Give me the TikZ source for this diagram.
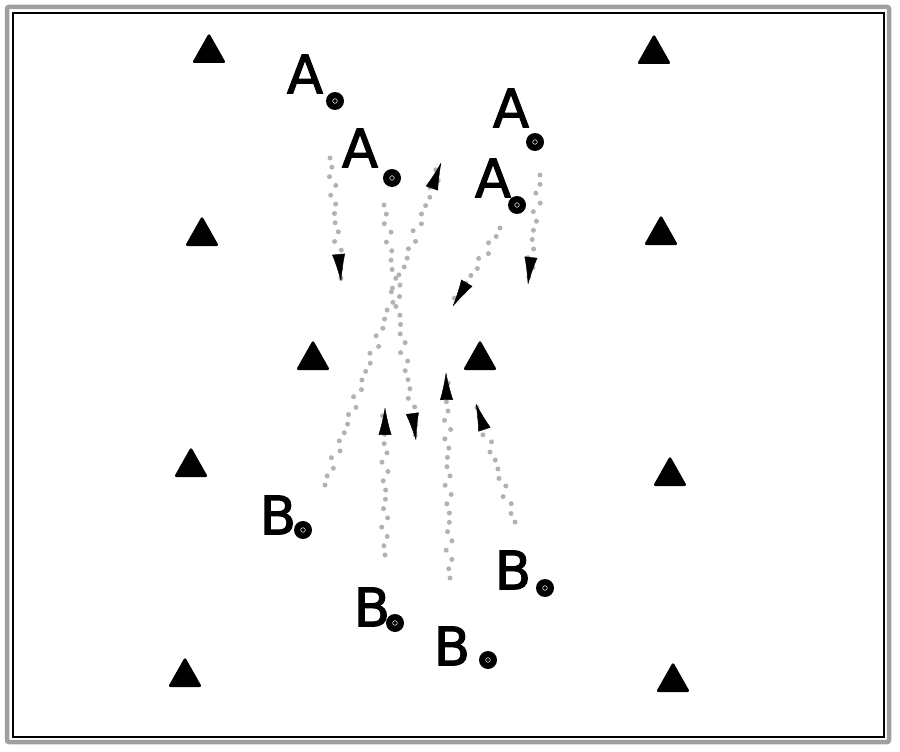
\documentclass[tikz,border=0pt]{standalone}
\usepackage{fontspec}
\setmainfont{DejaVu Sans}
\newfontfamily\playerfont{DejaVu Sans}[FakeBold=2]
\usetikzlibrary{arrows.meta,decorations.pathmorphing,decorations.markings}

\tikzset{
  player/.style={font=\playerfont\fontsize{53}{53}\selectfont, inner sep=0pt},
  ball/.style={circle, fill=black, minimum size=18pt, inner sep=0pt,
    path picture={\draw[white,line width=0.5pt] (path picture bounding box.center) circle (2.3pt);}},
  trail/.style={draw=gray!60, line width=5pt, dash pattern=on 0pt off 11pt, line cap=round,
    decorate, decoration={zigzag, amplitude=3.5pt, segment length=22pt}},
  runhead/.style={postaction={decorate, decoration={markings,
    mark=at position 1 with {\arrow[black]{Latex[round,length=28pt,width=13pt]}}}}},
  cone/.style={fill=black, rounded corners=2.5pt}
}

\begin{document}
\begin{tikzpicture}[x=1pt,y=-1pt]
\useasboundingbox (0,0) rectangle (900,752);

% Frame of the field
\draw[gray!75,line width=4.5pt,rounded corners=2pt] (7,7) rectangle (889,742);
\draw[black,line width=1.1pt] (13,13) rectangle (884,737);

% Cones
\foreach \cx/\cy in {209/49, 654/50, 202/232, 661/231, 313/356, 480/356,
                     191/463, 670/472, 185/673, 673/678}
  \fill[cone] (\cx-17,\cy+14) -- (\cx,\cy-16) -- (\cx+17,\cy+14) -- cycle;

% Players A with ball
\node[player] (a1) at (305,74) {A};
\node[ball] (ba1) at (335,101) {};
\node[player] (a2) at (360,148) {A};
\node[ball] (ba2) at (392,178) {};
\node[player] (a3) at (511,108) {A};
\node[ball] (ba3) at (535,142) {};
\node[player] (a4) at (493,178) {A};
\node[ball] (ba4) at (517,205) {};

% Players B with ball
\node[player] (b1) at (278,515) {B};
\node[ball] (bb1) at (303,530) {};
\node[player] (b2) at (372,607) {B};
\node[ball] (bb2) at (395,623) {};
\node[player] (b3) at (452,646) {B};
\node[ball] (bb3) at (488,660) {};
\node[player] (b4) at (513,570) {B};
\node[ball] (bb4) at (545,588) {};

% Start and end of the runs
\coordinate (ra1s) at (330,158);  \coordinate (ra1e) at (341,281);
\coordinate (ra2s) at (384,205);  \coordinate (ra2e) at (416,440);
\coordinate (ra3s) at (540,175);  \coordinate (ra3e) at (528,284);
\coordinate (ra4s) at (500,228);  \coordinate (ra4e) at (453,306);
\coordinate (rb1s) at (325,485);  \coordinate (rb1e) at (441,163);
\coordinate (rb2s) at (385,555);  \coordinate (rb2e) at (385,408);
\coordinate (rb3s) at (450,578);  \coordinate (rb3e) at (446,373);
\coordinate (rb4s) at (515,522);  \coordinate (rb4e) at (476,404);

% Runs (dotted trail, arrow head at the end)
\foreach \r in {ra1,ra2,ra3,ra4,rb1,rb2,rb3,rb4}{
  \draw[trail] (\r s) -- (\r e);
  \path[runhead] (\r s) -- (\r e);
}

\end{tikzpicture}
\end{document}
